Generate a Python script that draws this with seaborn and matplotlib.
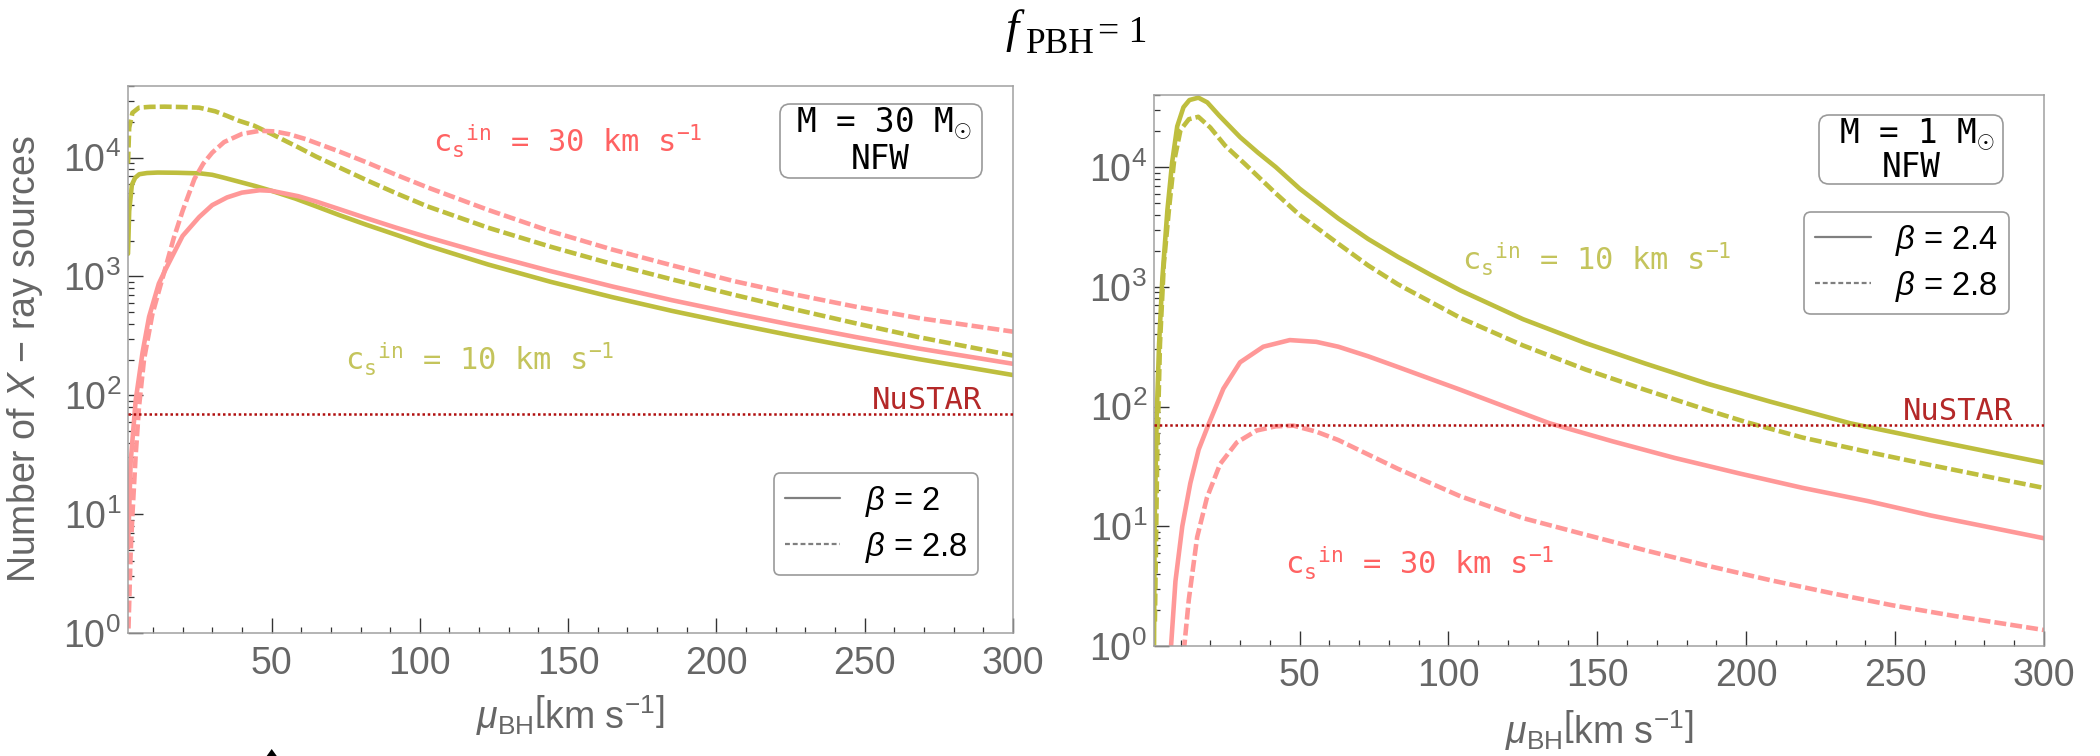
import matplotlib
matplotlib.use("Agg")
import matplotlib.pyplot as plt
import seaborn as sns
import pandas as pd
import numpy as np
from matplotlib.lines import Line2D
from matplotlib.patches import FancyBboxPatch, Polygon
from matplotlib.ticker import (FixedLocator, MultipleLocator, LogLocator,
                               NullFormatter, LogFormatterMathtext)

# ---------------- data ----------------
# Left panel: M = 30 Msun, NFW
mu_L_cs10_b2 = [1.6, 2.0, 2.9, 4, 5.4, 8, 11.6, 18, 26, 30, 34, 40, 44.6, 50, 58, 65, 73, 82, 92,
                102.5, 123, 144, 165, 185, 206, 226, 247, 268, 300]
N_L_cs10_b2 = [1550, 3550, 5890, 6760, 7240, 7410, 7480, 7450, 7360, 7160, 6760, 6170, 5750, 5250,
               4520, 3890, 3270, 2720, 2240, 1820, 1260, 902, 668, 513, 398, 316, 251, 202, 148]

mu_L_cs10_b28 = [1.6, 2.0, 3.1, 5.3, 9, 14, 20, 25.6, 31, 35, 39, 44, 50, 59, 65, 73, 82, 92, 102.5,
                 123, 144, 165, 185, 206, 226, 247, 268, 300]
N_L_cs10_b28 = [8910, 17800, 23800, 26300, 26700, 26800, 26600, 26300, 24500, 22400, 20400, 18600,
                15800, 12200, 10200, 8220, 6460, 5010, 3890, 2570, 1780, 1270, 944, 700, 531, 403,
                309, 216]

mu_L_cs30_b2 = [1.6, 2.5, 4.2, 6.5, 8.7, 12, 14.3, 20, 25.6, 30, 35, 40, 46, 50, 59, 65, 73, 82, 92,
                102.5, 123, 144, 165, 185, 206, 226, 247, 268, 300]
N_L_cs30_b2 = [5.2, 27.5, 91, 229, 457, 871, 1150, 2190, 3160, 3980, 4620, 5070, 5310, 5250, 4730,
               4270, 3670, 3090, 2570, 2140, 1530, 1110, 822, 631, 490, 389, 309, 248, 184]

mu_L_cs30_b28 = [1.6, 2.5, 3.1, 4.2, 5.3, 7, 9.8, 12.6, 14.3, 17, 20, 24, 27, 30, 34, 40, 46, 51, 56,
                 61.5, 73, 82, 92, 102.5, 123, 144, 165, 185, 206, 226, 247, 268, 300]
N_L_cs30_b28 = [0.8, 4.8, 10, 31.6, 79.4, 200, 479, 851, 1200, 2090, 3550, 6610, 8910, 11000, 13500,
                15800, 16800, 16600, 15700, 14300, 11200, 9120, 7160, 5620, 3630, 2400, 1680, 1240,
                912, 708, 556, 447, 343]

# Right panel: M = 1 Msun, NFW
mu_R_cs10_b24 = [1.1, 1.3, 2, 2.8, 3.9, 5.6, 7.2, 8.9, 11, 13, 16, 19, 23, 30, 36, 42, 50, 63, 73, 83,
                 94, 104, 125, 146, 166, 187, 208, 235, 262, 284, 300]
N_R_cs10_b24 = [0.8, 10, 81, 331, 1170, 4370, 11000, 21900, 31600, 36300, 38000, 34700, 26900,
                17800, 13200, 10000, 6610, 3720, 2510, 1780, 1260, 933, 537, 339, 229, 155, 110,
                72.4, 52.5, 40.7, 33.9]

mu_R_cs10_b28 = [1.4, 2.2, 3.1, 4.4, 6.1, 7.8, 10, 12.8, 16, 20, 25, 31.5, 42, 50, 63, 73, 83, 104,
                 125, 146, 166, 187, 200, 219, 241, 262, 284, 300]
N_R_cs10_b28 = [1.6, 40.7, 331, 1550, 4370, 11000, 20400, 25100, 26300, 21400, 15100, 10700, 6030,
                3980, 2290, 1510, 1050, 550, 324, 204, 138, 93.3, 74.1, 55, 41.7, 32.4, 25.1, 20.9]

mu_R_cs30_b24 = [6.7, 8.3, 10.6, 13.3, 16.1, 19.4, 24.4, 30, 37.8, 46.7, 55.6, 63, 73, 83, 94, 104,
                 120, 134, 155, 176, 198, 219, 241, 262, 284, 300]
N_R_cs30_b24 = [0.9, 3.47, 10, 22.9, 43.7, 70.8, 141, 234, 316, 359, 347, 316, 263, 214, 170, 138,
                97.7, 72.4, 51.3, 37.2, 27.5, 20.9, 16.2, 12.3, 9.55, 7.94]

mu_R_cs30_b28 = [11.1, 12.8, 15.6, 18.9, 23.3, 28.9, 35.6, 42, 48, 55.6, 63, 73, 83, 104, 125, 146,
                 166, 187, 208, 229, 249, 270, 300]
N_R_cs30_b28 = [0.9, 2.45, 8.13, 17.4, 33.1, 50.1, 63.1, 68.4, 69.2, 61.7, 52.5, 39.8, 30.2, 17.8,
                11.7, 8.51, 6.31, 4.68, 3.55, 2.75, 2.19, 1.78, 1.36]

NUSTAR_LIMIT = 70
X_TICKS = [50, 100, 150, 200, 250, 300]
Y_TICKS = [1, 10, 100, 1000, 10000]
XLIM_L = (1.6, 300)
XLIM_R = (1.1, 300)
YLIM = (1, 4.0e4)
BETA_LEFT = ["2", "2.8"]
BETA_RIGHT = ["2.4", "2.8"]

# ---------------- style ----------------
OLIVE = "#BEBE3E"
PINK = "#FF9898"
OLIVE_TEXT = "#C4C45C"
PINK_TEXT = "#FF6262"
NUSTAR_COLOR = "#B00F0F"
NUSTAR_TEXT = "#B42828"
GRAY_TXT = "#666666"
MONO = ["DejaVu Sans Mono", "DejaVu Sans"]

sns.set_theme(style="white")
plt.rcParams["font.family"] = ["Liberation Sans", "DejaVu Sans"]
plt.rcParams["mathtext.fontset"] = "custom"
plt.rcParams["mathtext.rm"] = "Liberation Sans"
plt.rcParams["mathtext.it"] = "Liberation Sans:italic"
plt.rcParams["mathtext.bf"] = "Liberation Sans:bold"
plt.rcParams["mathtext.tt"] = "DejaVu Sans Mono"
plt.rcParams["axes.unicode_minus"] = True

W, H = 2100, 756
fig = plt.figure(figsize=(W / 100, H / 100), dpi=100)
T = fig.dpi_scale_trans


def px(x, y_top):
    """pixel position (from top-left) -> inches for fig.dpi_scale_trans"""
    return x / 100.0, (H - y_top) / 100.0


def add_axes(x0, y0, x1, y1):
    return fig.add_axes([x0 / W, (H - y1) / H, (x1 - x0) / W, (y1 - y0) / H])


axL = add_axes(128, 86, 1013, 633)
axR = add_axes(1154, 95, 2044, 646)


def make_df(curves):
    frames = []
    for mu, n, cs, beta in curves:
        frames.append(pd.DataFrame({"mu": mu, "N": n, "cs": cs, "beta": beta}))
    return pd.concat(frames, ignore_index=True)


dfL = make_df([
    (mu_L_cs10_b2, N_L_cs10_b2, "10", BETA_LEFT[0]),
    (mu_L_cs10_b28, N_L_cs10_b28, "10", BETA_LEFT[1]),
    (mu_L_cs30_b2, N_L_cs30_b2, "30", BETA_LEFT[0]),
    (mu_L_cs30_b28, N_L_cs30_b28, "30", BETA_LEFT[1]),
])
dfR = make_df([
    (mu_R_cs10_b24, N_R_cs10_b24, "10", BETA_RIGHT[0]),
    (mu_R_cs10_b28, N_R_cs10_b28, "10", BETA_RIGHT[1]),
    (mu_R_cs30_b24, N_R_cs30_b24, "30", BETA_RIGHT[0]),
    (mu_R_cs30_b28, N_R_cs30_b28, "30", BETA_RIGHT[1]),
])

DASH = (2.6, 0.9)
for ax, df, betas in ((axL, dfL, BETA_LEFT), (axR, dfR, BETA_RIGHT)):
    sns.lineplot(data=df, x="mu", y="N", hue="cs", style="beta",
                 palette={"10": OLIVE, "30": PINK},
                 dashes={betas[0]: "", betas[1]: DASH},
                 estimator=None, sort=False, legend=False, linewidth=3.3, ax=ax)
    for ln in ax.get_lines():
        ln.set_solid_joinstyle("round")
        ln.set_dash_joinstyle("round")
    ax.axhline(NUSTAR_LIMIT, color=NUSTAR_COLOR, lw=1.8, ls=(0, (1, 1.1)), zorder=3)


def style_ax(ax, xlim):
    ax.set_yscale("log")
    ax.set_xlim(*xlim)
    ax.set_ylim(*YLIM)
    ax.xaxis.set_major_locator(FixedLocator(X_TICKS))
    ax.xaxis.set_minor_locator(MultipleLocator(10))
    ax.yaxis.set_major_locator(FixedLocator(Y_TICKS))
    ax.yaxis.set_minor_locator(LogLocator(base=10, subs=np.arange(2, 10), numticks=30))
    ax.yaxis.set_major_formatter(LogFormatterMathtext())
    ax.yaxis.set_minor_formatter(NullFormatter())
    ax.tick_params(which="major", direction="in", length=11, width=1.0, color="#333333",
                   labelsize=27, labelcolor=GRAY_TXT)
    ax.tick_params(which="minor", direction="in", length=4.5, width=0.9, color="#333333")
    ax.tick_params(axis="x", which="major", pad=9)
    ax.tick_params(axis="y", which="major", pad=5)
    ax.tick_params(which="both", top=False, right=False, left=True, bottom=True)
    for s in ax.spines.values():
        s.set_visible(True)
        s.set_color("#A0A0A0")
        s.set_linewidth(1.1)
    ax.grid(False)
    ax.set_facecolor("white")


style_ax(axL, XLIM_L)
style_ax(axR, XLIM_R)

XLABEL = r"$\mu_{\mathrm{BH}}\left[\mathrm{km\ s}^{-1}\right]$"
axL.set_xlabel(XLABEL, fontsize=27, color=GRAY_TXT)
axR.set_xlabel(XLABEL, fontsize=27, color=GRAY_TXT)
axL.xaxis.set_label_coords(0.5, -0.11)
axR.xaxis.set_label_coords(0.5, -0.1125)
axL.set_ylabel("Number of $X$ \u2212 ray sources", fontsize=27, color=GRAY_TXT)
axL.yaxis.set_label_coords(-0.094, 0.5)
axR.set_ylabel("")

# ---------------- annotations ----------------
CS30 = r"c$_{\mathtt{s}}$$^{\mathtt{in}}$ = 30 km s$^{\mathtt{-1}}$"
CS10 = r"c$_{\mathtt{s}}$$^{\mathtt{in}}$ = 10 km s$^{\mathtt{-1}}$"

axL.text(0.345, 0.8775, CS30, transform=axL.transAxes, color=PINK_TEXT, family=MONO,
         fontsize=22, ha="left", va="baseline")
axL.text(0.245, 0.48, CS10, transform=axL.transAxes, color=OLIVE_TEXT, family=MONO,
         fontsize=22, ha="left", va="baseline")
axR.text(0.346, 0.6806, CS10, transform=axR.transAxes, color=OLIVE_TEXT, family=MONO,
         fontsize=22, ha="left", va="baseline")
axR.text(0.147, 0.129, CS30, transform=axR.transAxes, color=PINK_TEXT, family=MONO,
         fontsize=22, ha="left", va="baseline")
axL.text(0.965, 0.4095, "NuSTAR", transform=axL.transAxes, color=NUSTAR_TEXT, family=MONO,
         fontsize=22, ha="right", va="baseline")
axR.text(0.965, 0.41, "NuSTAR", transform=axR.transAxes, color=NUSTAR_TEXT, family=MONO,
         fontsize=22, ha="right", va="baseline")

# mass boxes
for (bx0, by0, bx1, by1, line1, c1, b1, c2, b2) in (
        (780, 104, 982, 178, r"M = 30 M$_{\odot}$", 884, 133, 880, 169),
        (1819, 115, 2003, 184, r"M = 1 M$_{\odot}$", 1917, 144, 1911, 177)):
    x0, y0 = px(bx0, by1)
    box = FancyBboxPatch((x0, y0), (bx1 - bx0) / 100, (by1 - by0) / 100,
                         boxstyle="round,pad=0,rounding_size=0.1", transform=T,
                         facecolor="white", edgecolor="#9A9A9A", lw=1.2, zorder=5)
    fig.add_artist(box)
    fig.text(*px(c1, b1), line1, transform=T, family=MONO, fontsize=23.5, color="black",
             ha="center", va="baseline", zorder=6)
    fig.text(*px(c2, b2), "NFW", transform=T, family=MONO, fontsize=23.5, color="black",
             ha="center", va="baseline", zorder=6)

# legends
for ax, betas, anchor in ((axL, BETA_LEFT, (0.9605, 0.2925)), (axR, BETA_RIGHT, (0.9607, 0.7877))):
    handles = [Line2D([], [], color="#7F7F7F", lw=1.6),
               Line2D([], [], color="#7F7F7F", lw=1.6, ls=(0, (2.2, 1.3)))]
    labels = [r"$\beta$ = " + b for b in betas]
    leg = ax.legend(handles, labels, loc="upper right", bbox_to_anchor=anchor,
                    borderaxespad=0, fontsize=23.5, frameon=True, fancybox=True,
                    handlelength=1.7, handletextpad=0.75, borderpad=0.33, labelspacing=0.33)
    fr = leg.get_frame()
    fr.set_edgecolor("#9A9A9A")
    fr.set_linewidth(1.2)
    fr.set_alpha(1)
    for t in leg.get_texts():
        t.set_color("black")

# title: f_PBH = 1
SERIF = ["Liberation Serif", "DejaVu Serif"]
fig.text(*px(1005, 42), "f", transform=T, family=SERIF, style="italic", fontsize=34,
         ha="left", va="baseline", color="black")
fig.text(*px(1026, 53), "PBH", transform=T, family=SERIF, fontsize=25.5,
         ha="left", va="baseline", color="black")
fig.text(*px(1098, 42), "= 1", transform=T, family=SERIF, fontsize=27,
         ha="left", va="baseline", color="black")

# small black triangle tip cut by the bottom edge of the image
fig.add_artist(Polygon([px(266, 757), px(277.5, 757), px(271.7, 749)], closed=True,
                       transform=T, facecolor="black", edgecolor="none"))

fig.savefig("out.png", dpi=100, facecolor="white")
